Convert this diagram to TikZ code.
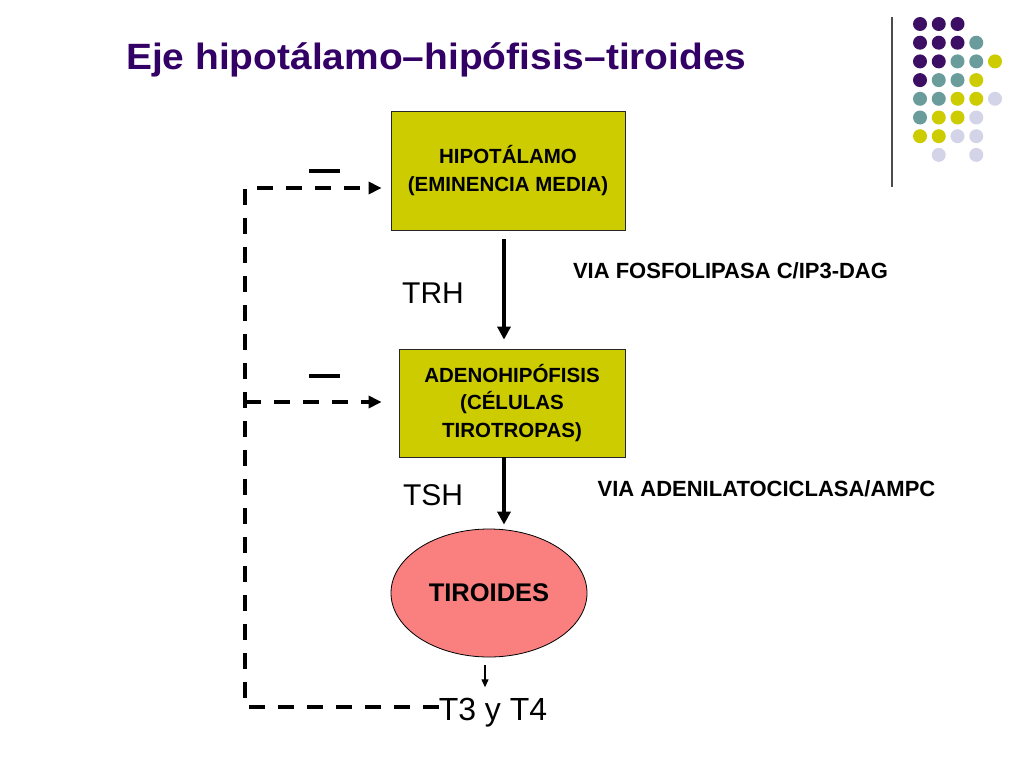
\documentclass[tikz,border=0pt]{standalone}
\usepackage{fontspec}
\setmainfont{Liberation Sans}
\usetikzlibrary{arrows.meta,shapes.geometric}
\definecolor{titlec}{RGB}{51,0,102}
\definecolor{dpurple}{RGB}{60,15,100}
\definecolor{dteal}{RGB}{106,156,156}
\definecolor{dyellow}{RGB}{204,204,0}
\definecolor{dlav}{RGB}{212,212,232}
\definecolor{boxfill}{RGB}{204,204,0}
\definecolor{ellfill}{RGB}{250,128,128}
\begin{document}
\begin{tikzpicture}[x=1pt,y=-1pt,
  box/.style={draw=black!85, line width=0.8pt, fill=boxfill, align=center, inner sep=0pt,
    font=\fontsize{20.5}{27.5}\selectfont\bfseries},
  hormone/.style={inner sep=0pt, font=\fontsize{30}{36}\selectfont},
  via/.style={inner sep=0pt, font=\fontsize{22}{26}\selectfont\bfseries},
  mainarrow/.style={line width=3.5pt, -{Triangle[length=13pt,width=13pt]}},
  fb/.style={line width=3.5pt, dash pattern=on 16pt off 13pt, line join=miter},
  fbarrow/.style={fb, -{Triangle[length=13pt,width=12pt]}},
  minus/.style={line width=3.5pt},
  dot/.style={radius=7pt}
]
\useasboundingbox (0,0) rectangle (1024,768);
\fill[white] (0,0) rectangle (1024,768);

% title
\node[anchor=base west, inner sep=0pt, text=titlec,
      font=\fontsize{38.9}{42}\selectfont\bfseries] (title) at (126,69)
  {\scalebox{1}[0.94]{Eje hipotálamo–hipófisis–tiroides}};

% decorative dots and rule
\draw[line width=1.5pt, black!70] (892,17) -- (892,187);
\foreach \c/\r/\col in {1/1/dpurple,2/1/dpurple,3/1/dpurple,
  1/2/dpurple,2/2/dpurple,3/2/dpurple,4/2/dteal,
  1/3/dpurple,2/3/dpurple,3/3/dteal,4/3/dteal,5/3/dyellow,
  1/4/dpurple,2/4/dteal,3/4/dteal,4/4/dyellow,
  1/5/dteal,2/5/dteal,3/5/dyellow,4/5/dyellow,5/5/dlav,
  1/6/dteal,2/6/dyellow,3/6/dyellow,4/6/dlav,
  1/7/dyellow,2/7/dyellow,3/7/dlav,4/7/dlav,
  2/8/dlav,4/8/dlav}
  \fill[\col] ({920+(\c-1)*18.75},{24+(\r-1)*18.7}) circle[dot];

% main nodes
\node[box, minimum width=234pt, minimum height=119pt] (hip) at (508,170.5)
  {HIPOTÁLAMO\\(EMINENCIA MEDIA)};
\node[box, minimum width=226pt, minimum height=108pt] (ad) at (512,403)
  {ADENOHIPÓFISIS\\(CÉLULAS\\TIROTROPAS)};
\node[ellipse, draw=black, line width=0.8pt, fill=ellfill, inner sep=0pt,
      minimum width=196pt, minimum height=128pt,
      font=\fontsize{25.5}{30}\selectfont\bfseries] (tir) at (489,593) {TIROIDES};

% labels
\node[hormone] (trh) at (433,293) {TRH};
\node[hormone] (tsh) at (433,495) {TSH};
\node[inner sep=0pt, font=\fontsize{32}{36}\selectfont] (t3) at (493,713) {T3 y T4};
\node[via] (via1) at (730.5,271) {VIA FOSFOLIPASA C/IP3-DAG};
\node[via] (via2) at (766.5,489) {VIA ADENILATOCICLASA/AMPC};

% main arrows
\coordinate (ax) at (504,0);
\draw[mainarrow] ([yshift=-9pt]hip.south -| ax) -- ([yshift=9pt]ad.north -| ax);
\draw[mainarrow] (ad.south -| ax) -- ([yshift=4pt]tir.north -| ax);
\coordinate (sx) at (485,0);
\draw[line width=1.2pt, -{Triangle[length=8pt,width=7pt]}]
  ([yshift=-8pt]tir.south -| sx) -- ([yshift=11pt]t3.north -| sx);

% feedback loop
\coordinate (c1) at (245,707);
\coordinate (c2) at (245,188);
\coordinate (b1) at (245,402);
\draw[fbarrow] (t3.west |- c1) -- (c1) -- (c2) -- ([xshift=-9pt]hip.west |- c2);
\draw[fbarrow] (b1) -- ([xshift=-17pt]ad.west |- b1);

% inhibition signs
\coordinate (m1a) at (309,171); \coordinate (m1b) at (340,171);
\coordinate (m2a) at (309,376); \coordinate (m2b) at (340,376);
\draw[minus] (m1a) -- (m1b);
\draw[minus] (m2a) -- (m2b);
\end{tikzpicture}
\end{document}
